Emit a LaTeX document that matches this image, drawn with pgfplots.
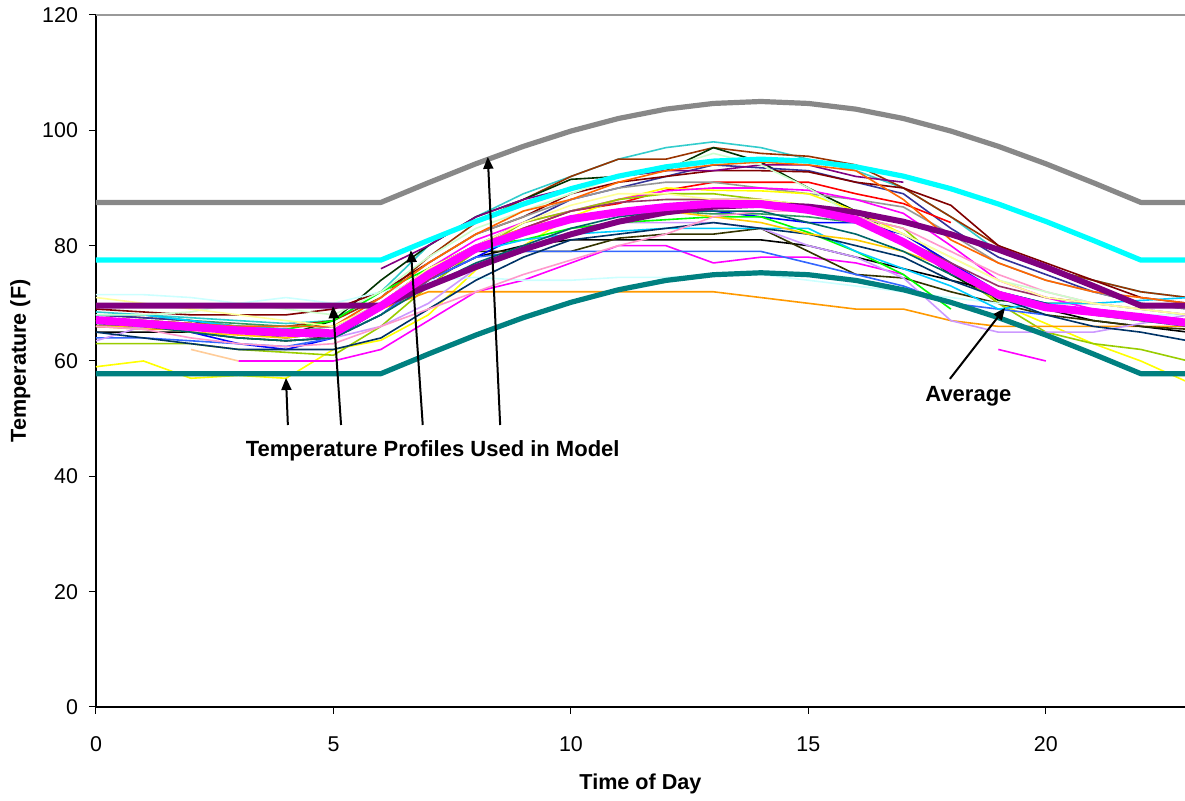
\documentclass[border=0pt]{standalone}
\usepackage{fontspec}
\setmainfont{Liberation Sans}
\usepackage{pgfplots}
\pgfplotsset{compat=1.18}
\usetikzlibrary{arrows.meta}
\definecolor{cTurq}{RGB}{51,204,204}
\definecolor{cSienna}{RGB}{153,51,0}
\definecolor{cDkGreen}{RGB}{0,51,0}
\definecolor{cSlate}{RGB}{51,51,153}
\definecolor{cDkRed}{RGB}{128,0,0}
\definecolor{cPurple}{RGB}{128,0,128}
\definecolor{cRed}{RGB}{255,0,0}
\definecolor{cGray}{RGB}{150,150,150}
\definecolor{cYellow}{RGB}{255,255,0}
\definecolor{cMagenta}{RGB}{255,0,255}
\definecolor{cPeach}{RGB}{255,204,153}
\definecolor{cYGreen}{RGB}{153,204,0}
\definecolor{cOrange}{RGB}{255,153,0}
\definecolor{cOlive}{RGB}{51,51,0}
\definecolor{cBlue}{RGB}{0,0,255}
\definecolor{cLtBlue}{RGB}{51,102,255}
\definecolor{cLtCyan}{RGB}{204,255,255}
\definecolor{cLavender}{RGB}{204,153,255}
\definecolor{cSeaGreen}{RGB}{51,153,102}
\definecolor{cGreen}{RGB}{0,255,0}
\definecolor{cSky}{RGB}{0,204,255}
\definecolor{cNavy}{RGB}{0,51,102}
\definecolor{cGold}{RGB}{255,204,0}
\definecolor{cRose}{RGB}{153,51,102}
\definecolor{cPink}{RGB}{255,153,204}
\definecolor{cLtGreen}{RGB}{204,255,204}
\definecolor{cOrRed}{RGB}{255,102,0}
\definecolor{cLtYellow}{RGB}{255,255,153}
\definecolor{cDkTeal}{RGB}{0,102,102}
\definecolor{tGray}{RGB}{136,136,136}
\definecolor{tCyan}{RGB}{0,255,255}
\definecolor{tTeal}{RGB}{0,128,128}
\definecolor{tPurple}{RGB}{128,0,128}
\definecolor{tMagenta}{RGB}{255,0,255}
\begin{document}
\begin{tikzpicture}
\path[use as bounding box] (-48pt,-47pt) rectangle (544.5pt,353.5pt);
\begin{axis}[
  at={(0,0)}, anchor=south west,
  scale only axis, width=544.5pt, height=346pt,
  xmin=0, xmax=22.93, ymin=0, ymax=120,
  xtick={0,5,10,15,20}, ytick={0,20,40,60,80,100,120},
  axis x line*=bottom, axis y line*=left,
  tick align=outside, major tick length=3.5pt,
  tick style={black, line width=0.5pt},
  axis line style={black, line width=0.6pt},
  /pgf/number format/assume math mode=true,
  tick label style={font=\fontsize{10.7}{12}\selectfont},
  xticklabel style={anchor=base, yshift=-19pt},
  yticklabel style={anchor=east, xshift=-2pt},
  xlabel={\textbf{Time of Day}}, ylabel={\textbf{Temperature (F)}},
  xlabel style={at={([yshift=-41.5pt]rel axis cs:0.5,0)}, anchor=base, font=\fontsize{10.8}{12}\selectfont},
  ylabel style={at={([xshift=-35pt]rel axis cs:0,0.5)}, anchor=base, font=\fontsize{10.8}{12}\selectfont},
  unbounded coords=jump,
  every axis plot/.append style={line width=0.8pt, mark=none, line join=round},
]
\draw[gray!80, line width=0.8pt] (rel axis cs:0,1) -- (rel axis cs:1,1);
% thin profiles
\addplot[cTurq] coordinates {(0,68.5)(1,68)(2,67.5)(3,67)(4,66.5)(5,67)(6,72)(7,80)(8,85)(9,89)(10,92)(11,95)(12,97)(13,98)(14,97)(15,95)(16,93)(17,90)(18,85)(19,79)(20,76)(21,74)(22,72)(23,71)};
\addplot[cSienna] coordinates {(0,68)(1,67.5)(2,67)(3,66)(4,66)(5,67)(6,71)(7,78)(8,84)(9,88)(10,92)(11,95)(12,95)(13,97)(14,96)(15,95.5)(16,94)(17,90)(18,85)(19,80)(20,76)(21,74)(22,72)(23,71)};
\addplot[cDkGreen] coordinates {(0,66)(1,66)(2,65.5)(3,65)(4,64.5)(5,67)(6,74)(7,80)(8,85)(9,88)(10,91.5)(11,92)(12,93)(13,97)(14,94.5)(15,90)(16,86)(17,81)(18,75)(19,70.5)(20,70)(21,70)};
\addplot[cSlate] coordinates {(0,68)(1,67.5)(2,67)(3,65)(4,64)(5,65)(6,70)(7,75)(8,80)(9,84)(10,88)(11,90)(12,92)(13,94)(14,93.5)(15,93)(16,91)(17,89)(18,83)(19,78)(20,75)(21,72)(22,70)(23,69)};
\addplot[cDkRed] coordinates {(0,69)(1,68.5)(2,68)(3,68)(4,68)(5,69)(6,72)(7,77)(8,82)(9,85)(10,89)(11,91)(12,92)(13,93)(14,93)(15,92.8)(16,91)(17,90)(18,87)(19,80)(20,77)(21,74)(22,71)(23,70)};
\addplot[cPurple] coordinates {(6,76)(7,80)(8,85)(9,88)(10,90)(11,92)(12,93)(13,93)(14,94)(15,94)(16,92)(17,91)};
\addplot[cRed] coordinates {(0,67)(1,67)(2,66.5)(3,66)(4,65.5)(5,65)(6,70)(7,76)(8,80)(9,83)(10,86)(11,87.3)(12,89.6)(13,91)(14,91)(15,91)(16,89)(17,87.3)(18,84)};
\addplot[cGray] coordinates {(0,67)(1,66.5)(2,66)(3,65)(4,65)(5,66)(6,71)(7,77)(8,82)(9,85)(10,88)(11,90)(12,91)(13,91)(14,90)(15,89)(16,88)(17,86.7)(18,82)(19,77)(20,74)(21,72)(22,70)(23,69)};
\addplot[cYellow] coordinates {(0,59)(1,60)(2,57)(3,57.5)(4,57)(5,62)(6,63.6)(7,68)(8,75.8)(9,80)(10,85)(11,88)(12,90)(13,89.6)(14,89.5)(15,89)(16,86)(17,82)(18,77)(19,70)(20,66.5)(21,63)(22,60)(23,56.3)};
\addplot[cMagenta] coordinates {(0,66)(1,66)(2,65.5)(3,65)(4,64.5)(5,64)(6,70)(7,76)(8,81)(9,84)(10,86)(11,88)(12,89.5)(13,90)(14,90)(15,89.6)(16,88)(17,85.6)(18,80)(19,74)(20,71)(21,69)(22,68)(23,67)};
\addplot[cMagenta] coordinates {(3,60)(4,60)(5,60)(6,62)(7,67)(8,72)(9,74)(10,77)(11,80)(12,80)(13,77)(14,78)(15,78)(16,77)(17,75)};
\addplot[cMagenta] coordinates {(19,62)(20,60)};
\addplot[cPeach] coordinates {(2,62)(3,60)};
\addplot[cYGreen] coordinates {(0,63)(1,63)(2,63)(3,62)(4,61.5)(5,61)(6,66)(7,73)(8,79)(9,84)(10,86)(11,88)(12,89)(13,89)(14,88)(15,87)(16,85)(17,83)(18,76)(19,70)(20,65)(21,63)(22,62)(23,60)};
\addplot[cOrange] coordinates {(0,66)(1,65.5)(2,65.5)(3,65)(4,65)(5,64)(6,69)(7,72)(8,72)(9,72)(10,72)(11,72)(12,72)(13,72)(14,71)(15,70)(16,69)(17,69)(18,67)(19,66)(20,66)(21,66)(22,66)(23,66)};
\addplot[black] coordinates {(0,65)(1,65)(2,65)(3,64)(4,63.5)(5,64)(6,68)(7,74)(8,78)(9,80)(10,81)(11,81)(12,81)(13,81)(14,81)(15,80)(16,78)(17,76)(18,74)(19,72)(20,69)(21,67)(22,66)(23,65)};
\addplot[cOlive] coordinates {(0,66)(1,66)(2,65.5)(3,65)(4,64.5)(5,64)(6,69)(7,75)(8,79)(9,79)(10,79)(11,81.3)(12,82)(13,82)(14,83)(15,79)(16,75)(17,74.4)(18,72)(19,70)(20,68)(21,67)(22,66)(23,65.5)};
\addplot[cBlue] coordinates {(0,67)(1,66.5)(2,65)(3,63)(4,62)(5,64)(6,69)(7,74)(8,78)(9,82)(10,84.5)(11,85.5)(12,86)(13,86)(14,85)(15,84)(16,84)(17,82)(18,77)(19,72)(20,70)(21,68)};
\addplot[cLtBlue] coordinates {(0,64)(1,64)(2,63.5)(3,63)(4,62.5)(5,64)(6,68)(7,74)(8,78)(9,79)(10,79)(11,79)(12,79)(13,79)(14,79)(15,77)(16,75)(17,73)(18,70)(19,69)(20,68)};
\addplot[cLtCyan] coordinates {(0,71.5)(1,71.5)(2,71)(3,70)(4,71)(5,70)(6,72)(7,74)(8,74.5)(9,74)(10,74)(11,74.5)(12,74.5)(13,75)(14,75)(15,74)(16,73)(17,72)(18,71)(19,70)(20,69)(21,69)(22,68)(23,68)};
\addplot[cLavender] coordinates {(0,63.5)(1,66)(2,66)(3,65)(4,65)(5,64)(6,66)(7,70)(8,76)(9,80)(10,83)(11,84)(12,84)(13,84)(14,83)(15,80)(16,78)(17,74.4)(18,67)(19,65)(20,65)(21,65)(22,66.5)(23,68)};
\addplot[cSeaGreen] coordinates {(0,68)(1,68)(2,67)(3,66.5)(4,66)(5,66)(6,70)(7,76)(8,80)(9,82)(10,85)(11,86)(12,86)(13,85.5)(14,85.5)(15,85)(16,84)(17,81)(18,76)(19,71)(20,69.5)(21,69)(22,68)(23,67)};
\addplot[cGreen] coordinates {(0,67.5)(1,67)(2,66.5)(3,66)(4,65.5)(5,67)(6,72)(7,76)(8,80)(9,81)(10,83)(11,84)(12,84.5)(13,85)(14,85)(15,82.3)(16,79)(17,75)(18,69)};
\addplot[cSky] coordinates {(0,68)(1,68)(2,67)(3,66)(4,65.5)(5,65)(6,70)(7,75)(8,79)(9,81)(10,82)(11,82.5)(12,83)(13,83)(14,83)(15,83)(16,79)(17,76)(18,73)(19,69)(20,70)(21,70)(22,70.5)(23,71)};
\addplot[cNavy] coordinates {(0,65)(1,64)(2,63)(3,62)(4,62)(5,62)(6,64)(7,69)(8,74)(9,78)(10,81)(11,82)(12,83)(13,84)(14,83)(15,82)(16,80)(17,78)(18,74)(19,71)(20,68)(21,66)(22,65)(23,63.5)};
\addplot[cGold] coordinates {(0,66)(1,66)(2,65)(3,64.5)(4,64)(5,65)(6,70)(7,76)(8,80)(9,83)(10,85)(11,86)(12,86)(13,85)(14,84)(15,82)(16,81)(17,79)(18,76)(19,71)(20,69)(21,68)(22,67)(23,67)};
\addplot[cRose] coordinates {(0,67.5)(1,67)(2,66)(3,65)(4,64.5)(5,65)(6,69)(7,74)(8,79)(9,83)(10,86)(11,87.5)(12,88)(13,88)(14,88)(15,86)(16,84)(17,81)(18,77)(19,73)(20,71)(21,70)(22,69)(23,68)};
\addplot[cPink] coordinates {(0,66)(1,65.5)(2,64)(3,63)(4,62.5)(5,63)(6,66)(7,69)(8,72)(9,75)(10,77.5)(11,80)(12,82)(13,85)(14,86)(15,86)(16,85)(17,83)(18,79)(19,75)(20,72)(21,70)(22,69)(23,68)};
\addplot[cLtGreen] coordinates {(0,68)(1,68)(2,68.5)(3,70)(4,69)(5,68)(6,72)(7,78)(8,83)(9,86)(10,89)(11,92)(12,93.5)(13,96)(14,94)(15,90)(16,85)(17,82)(18,78)(19,74)(20,72)(21,70)(22,69)(23,68)};
\addplot[cOrRed] coordinates {(0,67)(1,67)(2,66.5)(3,66)(4,66)(5,66)(6,71)(7,77)(8,82)(9,86)(10,88)(11,91)(12,93)(13,94)(14,94.5)(15,94)(16,93)(17,88)(18,81)(19,77)(20,74)(21,72)(22,71)(23,70)};
\addplot[cLtYellow] coordinates {(0,71)(1,70)(2,69)(3,68)(4,67)(5,66)(6,70)(7,76)(8,80)(9,84)(10,87)(11,89)(12,89)(13,88)(14,88)(15,87)(16,85)(17,82)(18,78)(19,74)(20,71)(21,70)(22,69)(23,68)};
\addplot[cDkTeal] coordinates {(0,66.5)(1,66)(2,65)(3,64)(4,63.5)(5,64)(6,68)(7,73)(8,77)(9,80)(10,83)(11,85)(12,86)(13,86)(14,86)(15,84)(16,82)(17,79)(18,75)(19,72)(20,70)(21,68)(22,67)(23,66)};
% thick profiles
\addplot[tPurple, line width=3pt] coordinates {(0,69.6)(1,69.6)(2,69.6)(3,69.6)(4,69.6)(5,69.6)(6,69.6)(7,73.01)(8,76.30)(9,79.32)(10,81.97)(11,84.15)(12,85.77)(13,86.76)(14,87.1)(15,86.76)(16,85.77)(17,84.15)(18,81.97)(19,79.32)(20,76.30)(21,73.01)(22,69.6)(23,69.6)};
\addplot[tMagenta, line width=4pt] coordinates {(0,67.1)(1,66.5)(2,65.9)(3,65.3)(4,64.9)(5,64.8)(6,69.5)(7,75)(8,79.5)(9,82.3)(10,84.6)(11,85.8)(12,86.7)(13,87.3)(14,87.2)(15,86.2)(16,84.5)(17,80.6)(18,76)(19,71.5)(20,69.3)(21,68.5)(22,67.6)(23,66.6)};
\addplot[tTeal, line width=2.6pt] coordinates {(0,57.8)(1,57.8)(2,57.8)(3,57.8)(4,57.8)(5,57.8)(6,57.8)(7,61.21)(8,64.50)(9,67.52)(10,70.17)(11,72.35)(12,73.97)(13,74.96)(14,75.3)(15,74.96)(16,73.97)(17,72.35)(18,70.17)(19,67.52)(20,64.50)(21,61.21)(22,57.8)(23,57.8)};
\addplot[tCyan, line width=2.6pt] coordinates {(0,77.5)(1,77.5)(2,77.5)(3,77.5)(4,77.5)(5,77.5)(6,77.5)(7,80.91)(8,84.20)(9,87.22)(10,89.87)(11,92.05)(12,93.67)(13,94.66)(14,95)(15,94.66)(16,93.67)(17,92.05)(18,89.87)(19,87.22)(20,84.20)(21,80.91)(22,77.5)(23,77.5)};
\addplot[tGray, line width=2.6pt] coordinates {(0,87.5)(1,87.5)(2,87.5)(3,87.5)(4,87.5)(5,87.5)(6,87.5)(7,90.91)(8,94.20)(9,97.22)(10,99.87)(11,102.05)(12,103.67)(13,104.66)(14,105)(15,104.66)(16,103.67)(17,102.05)(18,99.87)(19,97.22)(20,94.20)(21,90.91)(22,87.5)(23,87.5)};
% annotations
\draw[-{Triangle[length=6pt,width=5pt]}, line width=1pt] (axis cs:4.04,48.9) -- (axis cs:4.0,57.05);
\draw[-{Triangle[length=6pt,width=5pt]}, line width=1pt] (axis cs:5.16,48.9) -- (axis cs:4.99,69.5);
\draw[-{Triangle[length=6pt,width=5pt]}, line width=1pt] (axis cs:6.88,48.9) -- (axis cs:6.63,79.2);
\draw[-{Triangle[length=6pt,width=5pt]}, line width=1pt] (axis cs:8.51,48.9) -- (axis cs:8.25,95.4);
\draw[-{Triangle[length=6pt,width=5pt]}, line width=1pt] (axis cs:17.98,56.9) -- (axis cs:19.14,69.2);
\node[font=\bfseries\fontsize{11}{13}\selectfont] at (axis cs:7.09,44.4) {Temperature Profiles Used in Model};
\node[font=\bfseries\fontsize{11}{13}\selectfont] at (axis cs:18.37,53.9) {Average};
\end{axis}
\end{tikzpicture}
\end{document}
